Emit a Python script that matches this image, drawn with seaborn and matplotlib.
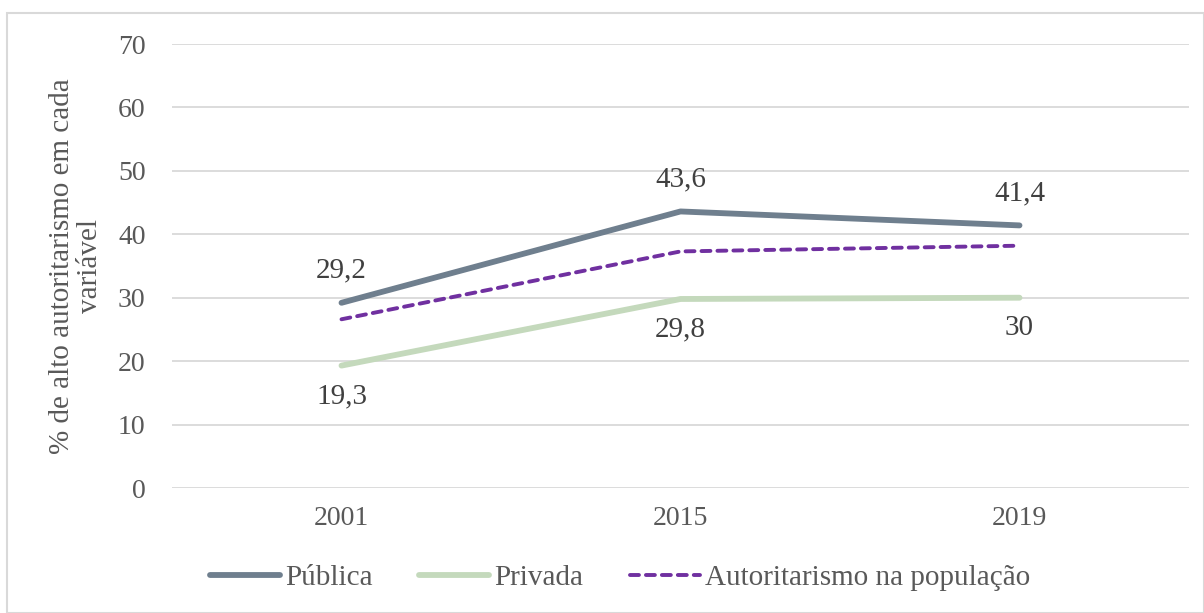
import matplotlib
matplotlib.use("Agg")
import matplotlib.pyplot as plt
import seaborn as sns
import pandas as pd
from matplotlib.patches import Rectangle

years = ["2001", "2015", "2019"]
publica = [29.2, 43.6, 41.4]
privada = [19.3, 29.8, 30.0]
populacao = [26.6, 37.3, 38.2]
series_names = ["Pública", "Privada", "Autoritarismo na população"]
y_ticks = [0, 10, 20, 30, 40, 50, 60, 70]

sns.set_theme(style="white")
plt.rcParams['font.family'] = ['Liberation Serif', 'DejaVu Serif']

df = pd.DataFrame({
    "ano": years * 3,
    "valor": publica + privada + populacao,
    "serie": [series_names[0]] * 3 + [series_names[1]] * 3 + [series_names[2]] * 3,
})

fig = plt.figure(figsize=(12.04, 6.13), dpi=100)
ax = fig.add_axes([172/1204, 1-488/613, (1189-172)/1204, (488-44)/613])

palette = {series_names[0]: "#6F7F8E", series_names[1]: "#C4D9BC", series_names[2]: "#7030A0"}
sns.lineplot(data=df, x="ano", y="valor", hue="serie", palette=palette, ax=ax,
             sort=False, legend=False)
widths = [4.2, 4.2, 2.8]
for line, w, name in zip(ax.lines, widths, series_names):
    line.set_linewidth(w)
    line.set_solid_capstyle("round")
    line.set_dash_capstyle("round")
    line.set_label(name)
ax.lines[2].set_dashes([2.3, 1.8])

ax.set_xlim(-0.5, 2.5)
ax.set_ylim(0, 70)
ax.set_yticks(y_ticks)
ax.grid(axis="y", color="#D9D9D9", linewidth=1.3)
ax.set_axisbelow(True)
for s in ax.spines.values():
    s.set_visible(False)
ax.tick_params(axis="both", length=0, labelsize=20, labelcolor="#595959")
ax.tick_params(axis="y", pad=19)
ax.tick_params(axis="x", pad=13)
ax.set_xlabel("")
ax.set_ylabel("% de alto autoritarismo em cada\nvariável", fontsize=21, color="#595959",
              linespacing=1.08, labelpad=11)

def fmt(v):
    s = f"{v:.1f}".replace(".", ",")
    return s[:-2] if s.endswith(",0") else s

for i, v in enumerate(publica):
    ax.annotate(fmt(v), (i, v), xytext=(0, 23), textcoords="offset points",
                ha="center", va="center", fontsize=21, color="#404040")
for i, v in enumerate(privada):
    ax.annotate(fmt(v), (i, v), xytext=(0, -22), textcoords="offset points",
                ha="center", va="center", fontsize=21, color="#404040")

fig.legend(handles=ax.lines[:3], labels=series_names, loc="center",
           bbox_to_anchor=(620/1204, 1-578/613), ncol=3, frameon=False,
           fontsize=21, labelcolor="#595959", handlelength=2.4, handletextpad=0.18,
           columnspacing=1.6)

fig.patches.append(Rectangle((7/1204, 0), 1-7/1204, 1-13/613, transform=fig.transFigure,
                             fill=False, edgecolor="#D9D9D9", linewidth=1.5))

fig.savefig("out.png", dpi=100)
